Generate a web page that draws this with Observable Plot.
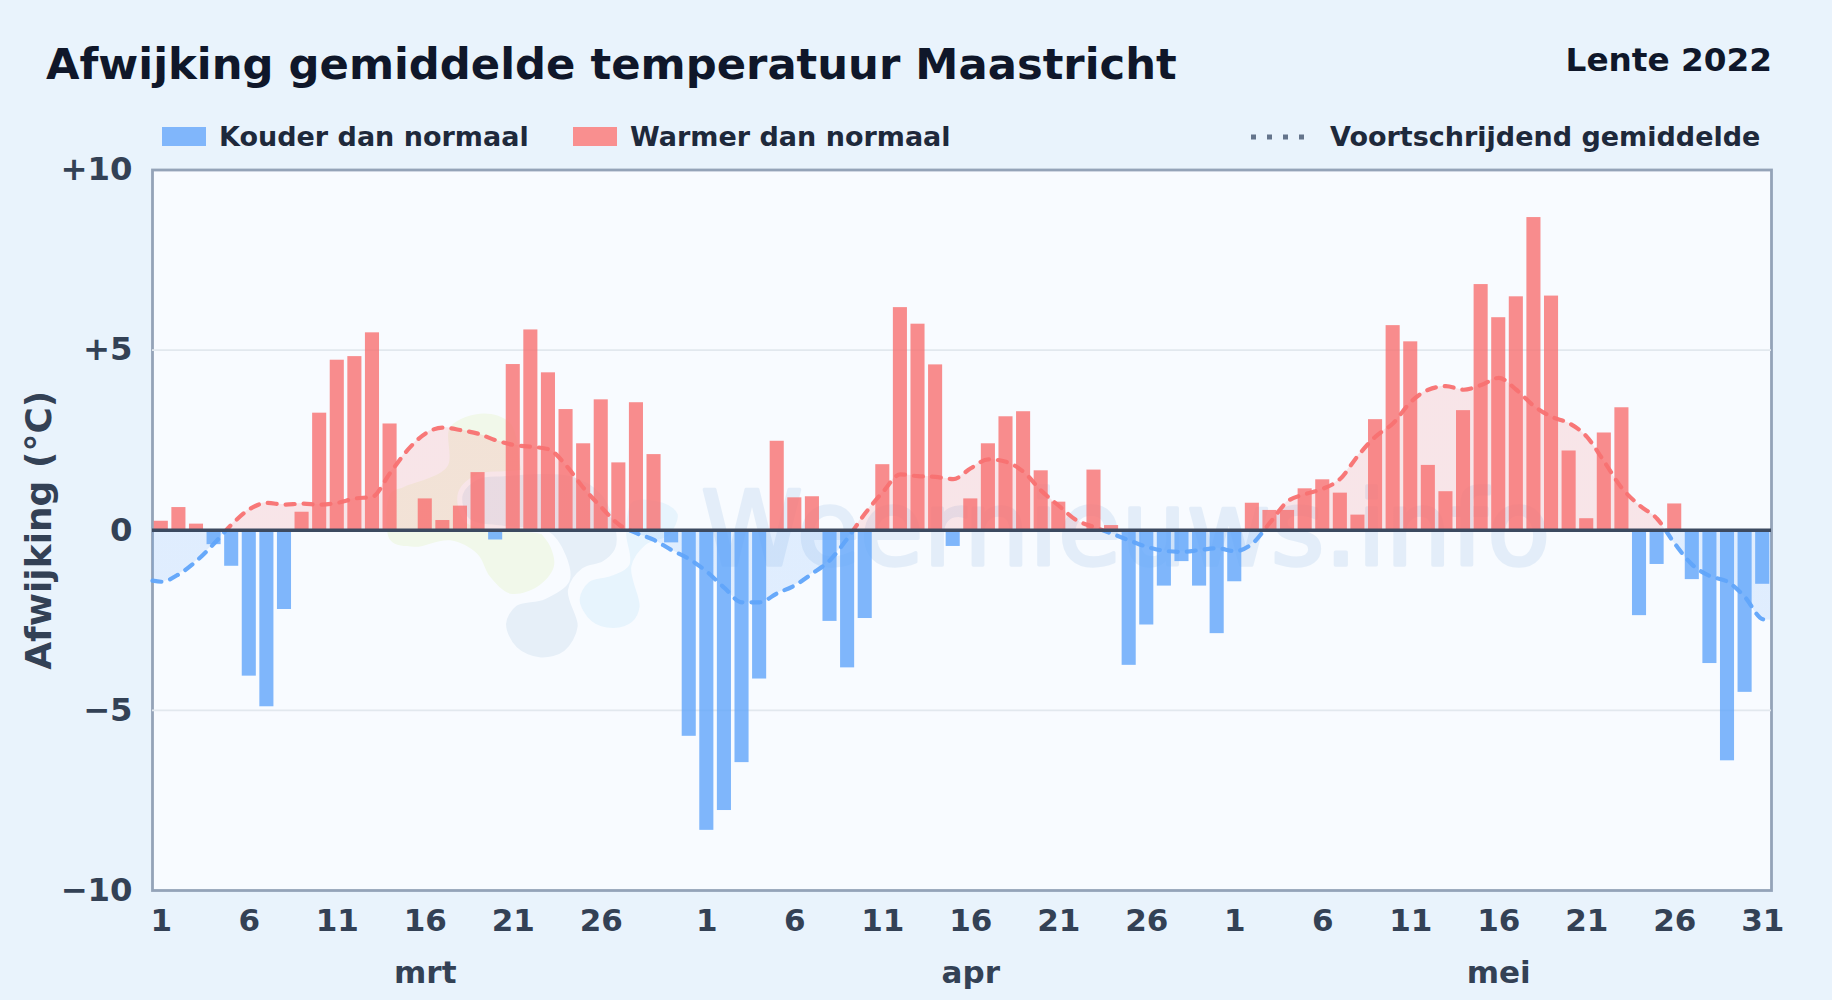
<!DOCTYPE html>
<html lang="nl">
<head>
<meta charset="utf-8">
<title>Afwijking gemiddelde temperatuur Maastricht</title>
<script src="https://cdn.jsdelivr.net/npm/d3@7"></script>
<script src="https://cdn.jsdelivr.net/npm/@observablehq/plot@0.6"></script>
<style>
html,body{margin:0;padding:0;width:1832px;height:1000px;overflow:hidden;background:#e9f3fc;font-family:"DejaVu Sans",sans-serif;font-weight:bold}
#header{position:relative;height:150px;width:1832px;line-height:1}
#header div,#header svg{position:absolute;white-space:nowrap}
#title{left:46px;top:43px;font-size:43.3px;color:#0f172a}
#season{right:60px;top:44px;font-size:32.7px;color:#0f172a}
.lg{top:123px;font-size:27px;color:#1e293b}
.sw{top:127px;width:44px;height:19px}
</style>
</head>
<body>
<div id="header">
  <div id="title">Afwijking gemiddelde temperatuur Maastricht</div>
  <div id="season">Lente 2022</div>
  <div class="sw" style="left:162px;background:#80b6fb"></div>
  <div class="lg" style="left:219px">Kouder dan normaal</div>
  <div class="sw" style="left:573px;background:#f98f8f"></div>
  <div class="lg" style="left:630px">Warmer dan normaal</div>
  <svg style="left:1250px;top:132px" width="60" height="10"><line x1="1" x2="60" y1="5" y2="5" stroke="#64748b" stroke-width="5" stroke-dasharray="5 11"/></svg>
  <div class="lg" style="left:1330px">Voortschrijdend gemiddelde</div>
</div>
<div id="chart"></div>
<script>
// Daily deviation (°C): 1 March – 31 May 2022
const marValues = [0.25,0.63,0.17,-0.4,-1.0,-4.05,-4.9,-2.2,0.5,3.25,4.72,4.82,5.48,2.95,-0.05,0.87,0.27,0.67,1.6,-0.27,4.6,5.56,4.37,3.35,2.4,3.62,1.87,3.54,2.1,-0.35,-5.72];
const aprValues = [-8.33,-7.78,-6.45,-4.13,2.47,0.9,0.93,-2.53,-3.82,-2.45,1.82,6.18,5.72,4.59,-0.45,0.87,2.4,3.15,3.29,1.65,0.78,0,1.67,0.13,-3.75,-2.63,-1.55,-0.87,-1.55,-2.87];
const meiValues = [-1.43,0.75,0.55,0.55,1.15,1.4,1.03,0.42,3.07,5.68,5.23,1.8,1.07,3.32,6.82,5.9,6.48,8.68,6.5,2.2,0.32,2.7,3.4,-2.37,-0.95,0.73,-1.37,-3.7,-6.4,-4.5,-1.5];

// Moving average per day
const marAvg = [-1.43,-1.22,-0.85,-0.37,0.16,0.58,0.76,0.71,0.74,0.71,0.76,0.88,0.93,1.59,2.23,2.68,2.85,2.78,2.68,2.5,2.37,2.32,2.25,1.8,1.17,0.64,0.16,-0.08,-0.27,-0.55,-0.8];
const aprAvg = [-1.15,-1.6,-2.0,-2.0,-1.75,-1.53,-1.2,-0.83,-0.22,0.47,1.06,1.55,1.5,1.48,1.42,1.72,1.97,1.9,1.62,1.1,0.68,0.28,0.09,-0.09,-0.28,-0.46,-0.57,-0.6,-0.55,-0.5];
const meiAvg = [-0.58,-0.37,0.21,0.8,1.0,1.15,1.43,2.07,2.6,2.97,3.56,3.9,4.0,3.9,4.03,4.23,3.9,3.45,3.15,2.97,2.6,1.9,1.17,0.69,0.32,-0.37,-0.96,-1.27,-1.43,-1.86,-2.47];
const avgStart = -1.4, avgEnd = -2.5;

const dayTicks = [1,6,11,16,21,26];
const months = ["mrt","apr","mei"];
const yTicks = [-10,-5,0,5,10];
const yLabels = ["−10","−5","0","+5","+10"];

// Watermark
const wmText = "Weernieuws.info";
const blobGreen = [[16.93,2.87],[18.83,3.24],[20.34,2.96],[20.91,1.76],[21.29,0.46],[22.61,-0.46],[22.8,-1.02],[21.86,-1.57],[20.34,-1.76],[19.2,-1.3],[18.45,-0.65],[16.93,-0.28],[14.85,-0.46],[13.52,-0.28],[13.52,1.02],[14.28,1.2],[16.74,1.76]];
const blobGrey = [[17.5,1.02],[18.45,1.48],[19.96,1.57],[23.75,1.57],[25.64,1.02],[26.5,-0.09],[26.4,-0.56],[25.64,-0.93],[24.51,-1.11],[23.75,-1.67],[24.3,-2.68],[23.5,-3.4],[22.05,-3.6],[20.6,-3.3],[19.95,-2.59],[20.6,-2.04],[22.24,-1.85],[23.56,-1.39],[23.37,-0.74],[22.42,-0.09],[19.96,0.05],[17.88,0.28]];
const blobBlue = [[24.13,-1.94],[24.7,-1.39],[26.02,-1.2],[26.97,-0.93],[26.78,-0.09],[27.16,0.83],[29.05,0.83],[29.98,0.46],[29.43,-0.19],[28.1,-0.46],[27.35,-1.02],[27.82,-2.13],[27.35,-2.59],[26.21,-2.78],[24.89,-2.59]];

const values = [...marValues,...aprValues,...meiValues];
const bars = values.map((v,i)=>({i,v}));
const avg = [...marAvg,...aprAvg,...meiAvg];
const avgPts = [{x:0,y:avgStart},...avg.map((y,i)=>({x:i+0.5,y})),{x:values.length,y:avgEnd}];

const monthStart = [0,marValues.length,marValues.length+aprValues.length];
const tickIdx = [], tickTxt = [];
monthStart.forEach(s=>dayTicks.forEach(d=>{tickIdx.push(s+d-0.5);tickTxt.push(d)}));
tickIdx.push(values.length-0.5); tickTxt.push(31);
const monthIdx = [marValues.length/2, marValues.length+15.5, marValues.length+aprValues.length+15.5];

const curve = "monotone-x";
const plot = Plot.plot({
  width:1832, height:850,
  marginLeft:152, marginRight:61, marginTop:19.5, marginBottom:110,
  style:{background:"transparent",color:"#334155",fontFamily:"'DejaVu Sans',sans-serif",overflow:"visible"},
  x:{domain:[0,values.length],axis:null},
  y:{domain:[-10,10],axis:null},
  marks:[
    Plot.frame({fill:"#f8fbff",stroke:"#94a3b8",strokeWidth:2.8}),
    Plot.ruleY([-5,5],{stroke:"#e2e8ee",strokeWidth:1.6}),
    Plot.line(blobGreen,{x:d=>d[0],y:d=>d[1],curve:"catmull-rom-closed",fill:"#f1f8ea",stroke:"none"}),
    Plot.line(blobGrey,{x:d=>d[0],y:d=>d[1],curve:"catmull-rom-closed",fill:"#e6eff8",stroke:"#f8fbff",strokeWidth:5}),
    Plot.line(blobBlue,{x:d=>d[0],y:d=>d[1],curve:"catmull-rom-closed",fill:"#e7f4fd",stroke:"#f8fbff",strokeWidth:5}),
    Plot.text([wmText],{text:d=>d,x:[55.3],y:[-0.05],fontSize:103,fontWeight:"normal",fill:"#6a9fd8",stroke:"#6a9fd8",strokeWidth:3.5,opacity:0.14}),
    Plot.areaY(avgPts,{x:"x",y1:0,y2:"y",curve,fill:"url(#split)",fillOpacity:0.16}),
    Plot.rectY(bars,{x1:d=>d.i+0.1,x2:d=>d.i+0.9,y1:0,y2:"v",fill:d=>d.v<0?"#60a5fa":"#f87171",fillOpacity:0.8}),
    Plot.line(avgPts,{x:"x",y:"y",curve,stroke:"url(#split)",strokeWidth:4.2,strokeDasharray:"9 9",strokeLinecap:"round",strokeOpacity:0.95}),
    Plot.ruleY([0],{stroke:"#3c4a60",strokeWidth:3.6}),
    Plot.axisY({ticks:yTicks,tickFormat:d=>yLabels[yTicks.indexOf(d)],tickSize:0,tickPadding:20,fontSize:32.3,fontWeight:"bold",label:null}),
    Plot.axisX({ticks:tickIdx,tickFormat:d=>tickTxt[tickIdx.indexOf(d)],tickSize:0,tickPadding:18,fontSize:31,fontWeight:"bold",label:null}),
    Plot.axisX({ticks:monthIdx,tickFormat:d=>months[monthIdx.indexOf(d)],tickSize:0,tickPadding:70,fontSize:31,fontWeight:"bold",label:null}),
    Plot.text(["Afwijking (°C)"],{text:d=>d,frameAnchor:"left",textAnchor:"middle",rotate:-90,dx:-113,fontSize:36,fontWeight:"bold",fill:"#334155"})
  ]
});
const y = plot.scale("y");
const NS = "http://www.w3.org/2000/svg";
const defs = document.createElementNS(NS,"defs");
const g = document.createElementNS(NS,"linearGradient");
g.setAttribute("id","split");
g.setAttribute("gradientUnits","userSpaceOnUse");
g.setAttribute("x1",0);g.setAttribute("x2",0);
g.setAttribute("y1",y.apply(10));g.setAttribute("y2",y.apply(-10));
[[0.5,"#f87171"],[0.5,"#60a5fa"]].forEach(([o,c])=>{
  const s=document.createElementNS(NS,"stop");
  s.setAttribute("offset",o);s.setAttribute("stop-color",c);g.appendChild(s);
});
defs.appendChild(g);
plot.insertBefore(defs,plot.firstChild);
document.getElementById("chart").appendChild(plot);
</script>
</body>
</html>
